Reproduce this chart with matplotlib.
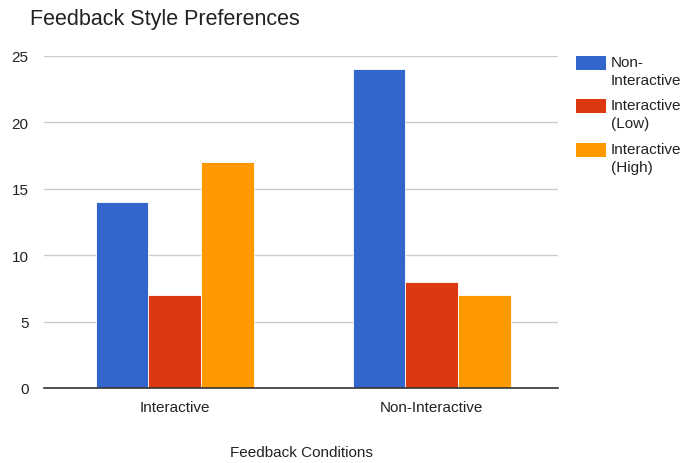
import matplotlib
matplotlib.use("Agg")
import matplotlib.pyplot as plt
from matplotlib.patches import Rectangle
import numpy as np

categories = ["Interactive", "Non-Interactive"]
series_names = ["Non-\nInteractive", "Interactive\n(Low)", "Interactive\n(High)"]
non_interactive = [14, 24]
interactive_low = [7, 8]
interactive_high = [17, 7]
colors = ["#3366cc", "#dc3912", "#ff9900"]
yticks = [0, 5, 10, 15, 20, 25]

plt.rcParams['font.family'] = ['Liberation Sans', 'DejaVu Sans']

W, H = 683, 464
fig = plt.figure(figsize=(W / 100, H / 100), dpi=100)
ax = fig.add_axes([44/W, 1-389/H, 514/W, 332/H])

x = np.arange(len(categories))
w = 0.205
values = [non_interactive, interactive_low, interactive_high]
for i, (vals, name, c) in enumerate(zip(values, series_names, colors)):
    ax.bar(x + (i - 1) * w, vals, width=w, color=c, label=name,
           edgecolor="white", linewidth=0.6, zorder=3)

ax.set_xlim(-0.508, 1.492)
ax.set_ylim(0, 25)
ax.set_yticks(yticks)
ax.set_xticks(x)
ax.set_xticklabels(categories)
ax.grid(axis="y", color="#cccccc", linewidth=1, zorder=0)
for s in ["top", "right", "left"]:
    ax.spines[s].set_visible(False)
ax.spines["bottom"].set_color("#333333")
ax.spines["bottom"].set_linewidth(1.2)
ax.spines["bottom"].set_zorder(4)
ax.tick_params(axis="both", length=0, labelsize=11, colors="#222222")
ax.tick_params(axis="y", pad=11)
ax.tick_params(axis="x", pad=9)

fig.text(30/W, 1 - 20/H, "Feedback Style Preferences", fontsize=15.5,
         va="center", ha="left", color="#222222")
fig.text(301/W, 1 - 453/H, "Feedback Conditions", fontsize=11, ha="center",
         va="center", color="#222222")

# legend drawn manually: swatch aligned with the first line of each label
leg_tops = [57, 100, 144]
for top, name, c in zip(leg_tops, series_names, colors):
    fig.patches.append(Rectangle((576/W, 1 - (top + 14)/H), 30/W, 14/H,
                                 transform=fig.transFigure, facecolor=c,
                                 edgecolor="none"))
    fig.text(611/W, 1 - (top - 1)/H, name, fontsize=11, ha="left", va="top",
             color="#222222", linespacing=1.4)

fig.savefig("out.png", dpi=100)
